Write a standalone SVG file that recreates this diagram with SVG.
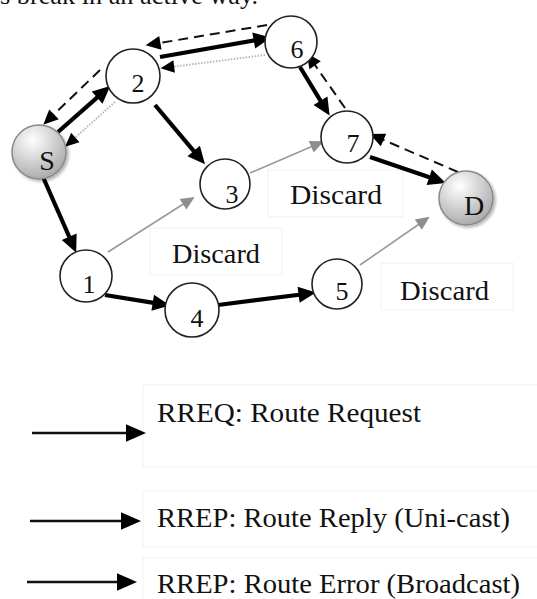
<svg xmlns="http://www.w3.org/2000/svg" width="537" height="599" viewBox="0 0 537 599">
<style>
text{font-family:"Liberation Serif","Times New Roman",serif;fill:#111}
.lbl{font-size:26px;text-anchor:middle}
.disc{font-size:28px}
.leg{font-size:28px}
.node{fill:#fff;stroke:#222;stroke-width:1.6}
.gnode{fill:url(#gg);stroke:#8a8a8a;stroke-width:1.5}
.box{fill:#fff;stroke:#f1f1f1;stroke-width:1}
.thick{stroke:#000;stroke-width:4.2;fill:none;marker-end:url(#mThick)}
.dash{stroke:#111;stroke-width:2;stroke-dasharray:10,6;fill:none;marker-end:url(#mDash)}
.gray{stroke:#9a9a9a;stroke-width:1.6;fill:none;marker-end:url(#mGray)}
.dot{stroke:#b8b8b8;stroke-width:2;stroke-dasharray:1.5,1.5;fill:none;marker-end:url(#mDot)}
.legl{stroke:#111;stroke-width:2.6;fill:none;marker-end:url(#mLeg)}
</style>
<defs>
<radialGradient id="gg" cx="38%" cy="28%" r="80%">
<stop offset="0" stop-color="#ffffff"/>
<stop offset="1" stop-color="#a4a4a4"/>
</radialGradient>
<filter id="sh" x="-30%" y="-30%" width="160%" height="160%">
<feGaussianBlur in="SourceAlpha" stdDeviation="1.5"/>
<feOffset dx="1.5" dy="2" result="b"/>
<feComponentTransfer><feFuncA type="linear" slope="0.3"/></feComponentTransfer>
<feMerge><feMergeNode/><feMergeNode in="SourceGraphic"/></feMerge>
</filter>
<marker id="mThick" markerUnits="userSpaceOnUse" markerWidth="20" markerHeight="20" refX="2" refY="0" viewBox="0 -8 16 16" orient="auto" overflow="visible">
<path d="M0,-6.5 L14,0 L0,6.5 z" fill="#000"/>
</marker>
<marker id="mDash" markerUnits="userSpaceOnUse" markerWidth="20" markerHeight="20" refX="2" refY="0" viewBox="0 -8 16 16" orient="auto" overflow="visible">
<path d="M0,-5.5 L12,0 L0,5.5 z" fill="#000"/>
</marker>
<marker id="mGray" markerUnits="userSpaceOnUse" markerWidth="20" markerHeight="20" refX="3" refY="0" viewBox="0 -8 16 16" orient="auto" overflow="visible">
<path d="M0,-5 L11,0 L0,5 z" fill="#8e8e8e"/>
</marker>
<marker id="mDot" markerUnits="userSpaceOnUse" markerWidth="20" markerHeight="20" refX="1" refY="0" viewBox="0 -8 16 16" orient="auto" overflow="visible">
<path d="M0,-5 L11,0 L0,5 z" fill="#000"/>
</marker>
<marker id="mLeg" markerUnits="userSpaceOnUse" markerWidth="20" markerHeight="20" refX="0" refY="0" viewBox="0 -8 16 16" orient="auto" overflow="visible">
<path d="M0,-7 L16,0 L0,7 z" fill="#000"/>
</marker>
</defs>
<rect width="537" height="599" fill="#fff"/>
<text x="0" y="4" style="font-size:26px" textLength="258" lengthAdjust="spacingAndGlyphs">s break in an active way.</text>

<g id="boxes">
<rect class="box" x="268" y="170" width="135" height="47"/>
<rect class="box" x="150" y="228" width="132" height="47"/>
<rect class="box" x="381" y="263" width="132" height="47"/>
</g>

<g id="connectors">
<path class="dash" d="M267,25 L157.9,43.3"/>
<path class="thick" d="M160,57 L256.2,40.1"/>
<path class="dot" d="M265,55 L172.9,66.7"/>
<path class="dash" d="M100,70 L52.2,116.1"/>
<path class="thick" d="M58,132 L99,95.9"/>
<path class="dot" d="M115,102 L74.4,138.3"/>
<path class="thick" d="M155,105 L195.3,152.8"/>
<path class="thick" d="M300,67 L321.8,102.8"/>
<path class="dash" d="M345,108 L313.7,63.2"/>
<path class="thick" d="M370,157 L431.6,178.1"/>
<path class="dash" d="M458,172 L381.2,139"/>
<path class="gray" d="M250,173 L314.7,145.2"/>
<path class="thick" d="M43,177 L70.2,239"/>
<path class="gray" d="M108,252 L186.2,202.3"/>
<path class="thick" d="M105,295 L155.2,303.1"/>
<path class="thick" d="M218,305 L301.1,294.5"/>
<path class="gray" d="M360,265 L421.4,222.5"/>
</g>

<g id="node-S"><circle class="gnode" cx="39" cy="152" r="27" filter="url(#sh)"/><text class="lbl" x="47" y="170" style="font-size:28px">S</text></g>
<g id="node-2"><circle class="node" cx="133" cy="76" r="27"/><text class="lbl" x="138" y="92">2</text></g>
<g id="node-6"><circle class="node" cx="291" cy="42" r="26"/><text class="lbl" x="297" y="58">6</text></g>
<g id="node-7"><circle class="node" cx="347" cy="137" r="26"/><text class="lbl" x="353" y="152">7</text></g>
<g id="node-3"><circle class="node" cx="225" cy="184" r="25"/><text class="lbl" x="232" y="203">3</text></g>
<g id="node-D"><circle class="gnode" cx="466" cy="198" r="27" filter="url(#sh)"/><text class="lbl" x="474" y="215" style="font-size:28px">D</text></g>
<g id="node-1"><circle class="node" cx="86" cy="276" r="26"/><text class="lbl" x="89" y="293">1</text></g>
<g id="node-4"><circle class="node" cx="192" cy="310" r="27"/><text class="lbl" x="197" y="327">4</text></g>
<g id="node-5"><circle class="node" cx="337" cy="284" r="25"/><text class="lbl" x="342" y="300">5</text></g>

<g id="discard-labels">
<text class="disc" x="290" y="204" textLength="92" lengthAdjust="spacingAndGlyphs">Discard</text>
<text class="disc" x="172" y="263" textLength="88" lengthAdjust="spacingAndGlyphs">Discard</text>
<text class="disc" x="400" y="300" textLength="89" lengthAdjust="spacingAndGlyphs">Discard</text>
</g>

<g id="legend">
<rect class="box" x="143" y="385" width="400" height="82"/>
<rect class="box" x="143" y="491" width="400" height="56"/>
<rect class="box" x="143" y="558" width="400" height="50"/>
<path class="legl" d="M32,433 L126,433"/>
<path class="legl" d="M30,521 L121,521"/>
<path class="legl" d="M27,582 L117,582"/>
<text class="leg" x="157" y="422" textLength="264" lengthAdjust="spacingAndGlyphs">RREQ: Route Request</text>
<text class="leg" x="157" y="527" textLength="353" lengthAdjust="spacingAndGlyphs">RREP: Route Reply (Uni-cast)</text>
<text class="leg" x="157" y="593" textLength="363" lengthAdjust="spacingAndGlyphs">RREP: Route Error (Broadcast)</text>
</g>
</svg>
